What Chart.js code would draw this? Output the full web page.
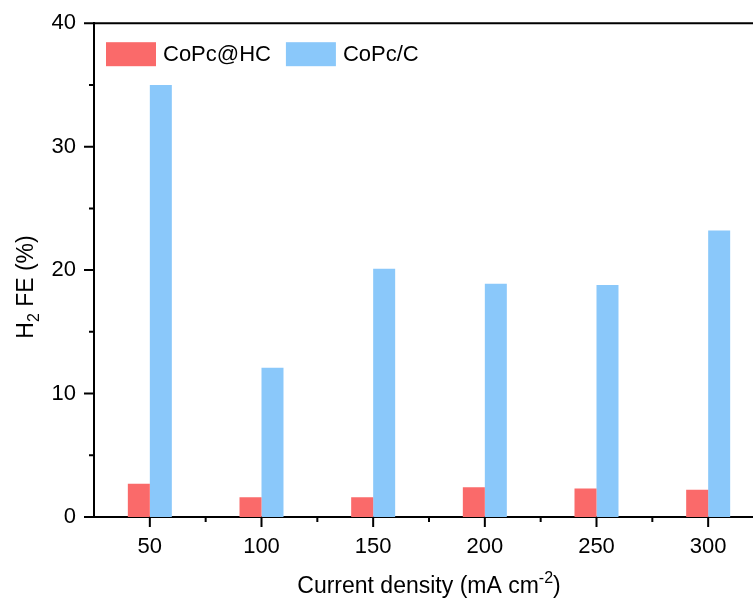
<!DOCTYPE html>
<html>
<head>
<meta charset="utf-8">
<script src="https://cdn.jsdelivr.net/npm/chart.js@4/dist/chart.umd.min.js"></script>
<style>
html,body{margin:0;padding:0;background:#fff;overflow:hidden;}
#wrap{width:780px;height:603px;}
</style>
</head>
<body>
<div id="wrap"><canvas id="c"></canvas></div>
<script>

const categories=["50","100","150","200","250","300"];
const hcValues=[2.7,1.6,1.6,2.4,2.3,2.2];
const cValues=[35.0,12.1,20.1,18.9,18.8,23.2];
const seriesNames=["CoPc@HC","CoPc/C"];
const seriesColors=["#FA6A6A","#8AC8FA"];

const FONT="Liberation Sans, Arial, sans-serif";

// draws frame, minor/major ticks, legend and axis titles
const decor={
    id:"decor",
    afterDraw(chart){
        let ctx=chart.ctx;
        let a=chart.chartArea;
        let xs=chart.scales.x;
        let ys=chart.scales.y;
        ctx.save();
        ctx.strokeStyle="#000";
        ctx.lineWidth=2;
        ctx.beginPath();
        ctx.moveTo(a.left-1,a.top);
        ctx.lineTo(a.right,a.top);
        ctx.moveTo(a.right,a.top);
        ctx.lineTo(a.right,a.bottom);
        for(let v=0;v<=40;v+=5){
            let y=ys.getPixelForValue(v);
            let len=v%10==0?10:5;
            ctx.moveTo(a.left-len,y);
            ctx.lineTo(a.left,y);
        }
        categories.forEach((c,i)=>{
            let x=xs.getPixelForValue(i);
            ctx.moveTo(x,a.bottom);
            ctx.lineTo(x,a.bottom+10);
            let m=xs.getPixelForValue(i+0.5);
            ctx.moveTo(m,a.bottom);
            ctx.lineTo(m,a.bottom+5);
        });
        ctx.stroke();

        // legend inside the plot
        ctx.font="22px "+FONT;
        ctx.textBaseline="middle";
        let lx=a.left+12;
        let ly=a.top+19;
        chart.data.datasets.forEach(ds=>{
            ctx.fillStyle=ds.backgroundColor;
            ctx.fillRect(lx,ly,50,24);
            ctx.fillStyle="#000";
            ctx.textAlign="left";
            ctx.fillText(ds.label,lx+57,ly+13);
            lx+=57+ctx.measureText(ds.label).width+15;
        });

        let big="23px "+FONT, small="16px "+FONT;

        // y title with subscript
        ctx.save();
        ctx.translate(26,287);
        ctx.rotate(-Math.PI/2);
        ctx.textBaseline="alphabetic";
        ctx.textAlign="left";
        ctx.font=big; let w1=ctx.measureText("H").width;
        ctx.font=small; let w2=ctx.measureText("2").width;
        ctx.font=big; let w3=ctx.measureText(" FE (%)").width;
        let sx=-(w1+w2+w3)/2;
        ctx.fillText("H",sx,7);
        ctx.font=small; ctx.fillText("2",sx+w1,13);
        ctx.font=big; ctx.fillText(" FE (%)",sx+w1+w2,7);
        ctx.restore();

        // x title with superscript
        ctx.textBaseline="alphabetic";
        ctx.textAlign="left";
        ctx.fillStyle="#000";
        ctx.font=big; let t1=ctx.measureText("Current density (mA cm").width;
        ctx.font=small; let t2=ctx.measureText("-2").width;
        ctx.font=big; let t3=ctx.measureText(")").width;
        let cx=(a.left+a.right)/2-(t1+t2+t3)/2;
        ctx.fillText("Current density (mA cm",cx,593);
        ctx.font=small; ctx.fillText("-2",cx+t1,583);
        ctx.font=big; ctx.fillText(")",cx+t1+t2,593);
        ctx.restore();
    }
};

new Chart(document.getElementById("c"),{
    type:"bar",
    data:{
        labels:categories,
        datasets:[
            {label:seriesNames[0],data:hcValues,backgroundColor:seriesColors[0]},
            {label:seriesNames[1],data:cValues,backgroundColor:seriesColors[1]}
        ]
    },
    options:{
        responsive:true,
        maintainAspectRatio:false,
        animation:false,
        layout:{padding:{top:10,right:16,left:0,bottom:0}},
        datasets:{bar:{categoryPercentage:0.394,barPercentage:1}},
        plugins:{legend:{display:false},tooltip:{enabled:false}},
        scales:{
            x:{
                grid:{display:false},
                border:{color:"#000",width:2},
                ticks:{color:"#000",font:{family:FONT,size:22},padding:9,maxRotation:0},
                afterFit:s=>{s.height=86;}
            },
            y:{
                min:0,max:40,
                grid:{display:false},
                border:{color:"#000",width:2},
                ticks:{stepSize:10,color:"#000",font:{family:FONT,size:22},padding:10},
                afterFit:s=>{s.width=94;}
            }
        }
    },
    plugins:[decor]
});
</script>
</body>
</html>
